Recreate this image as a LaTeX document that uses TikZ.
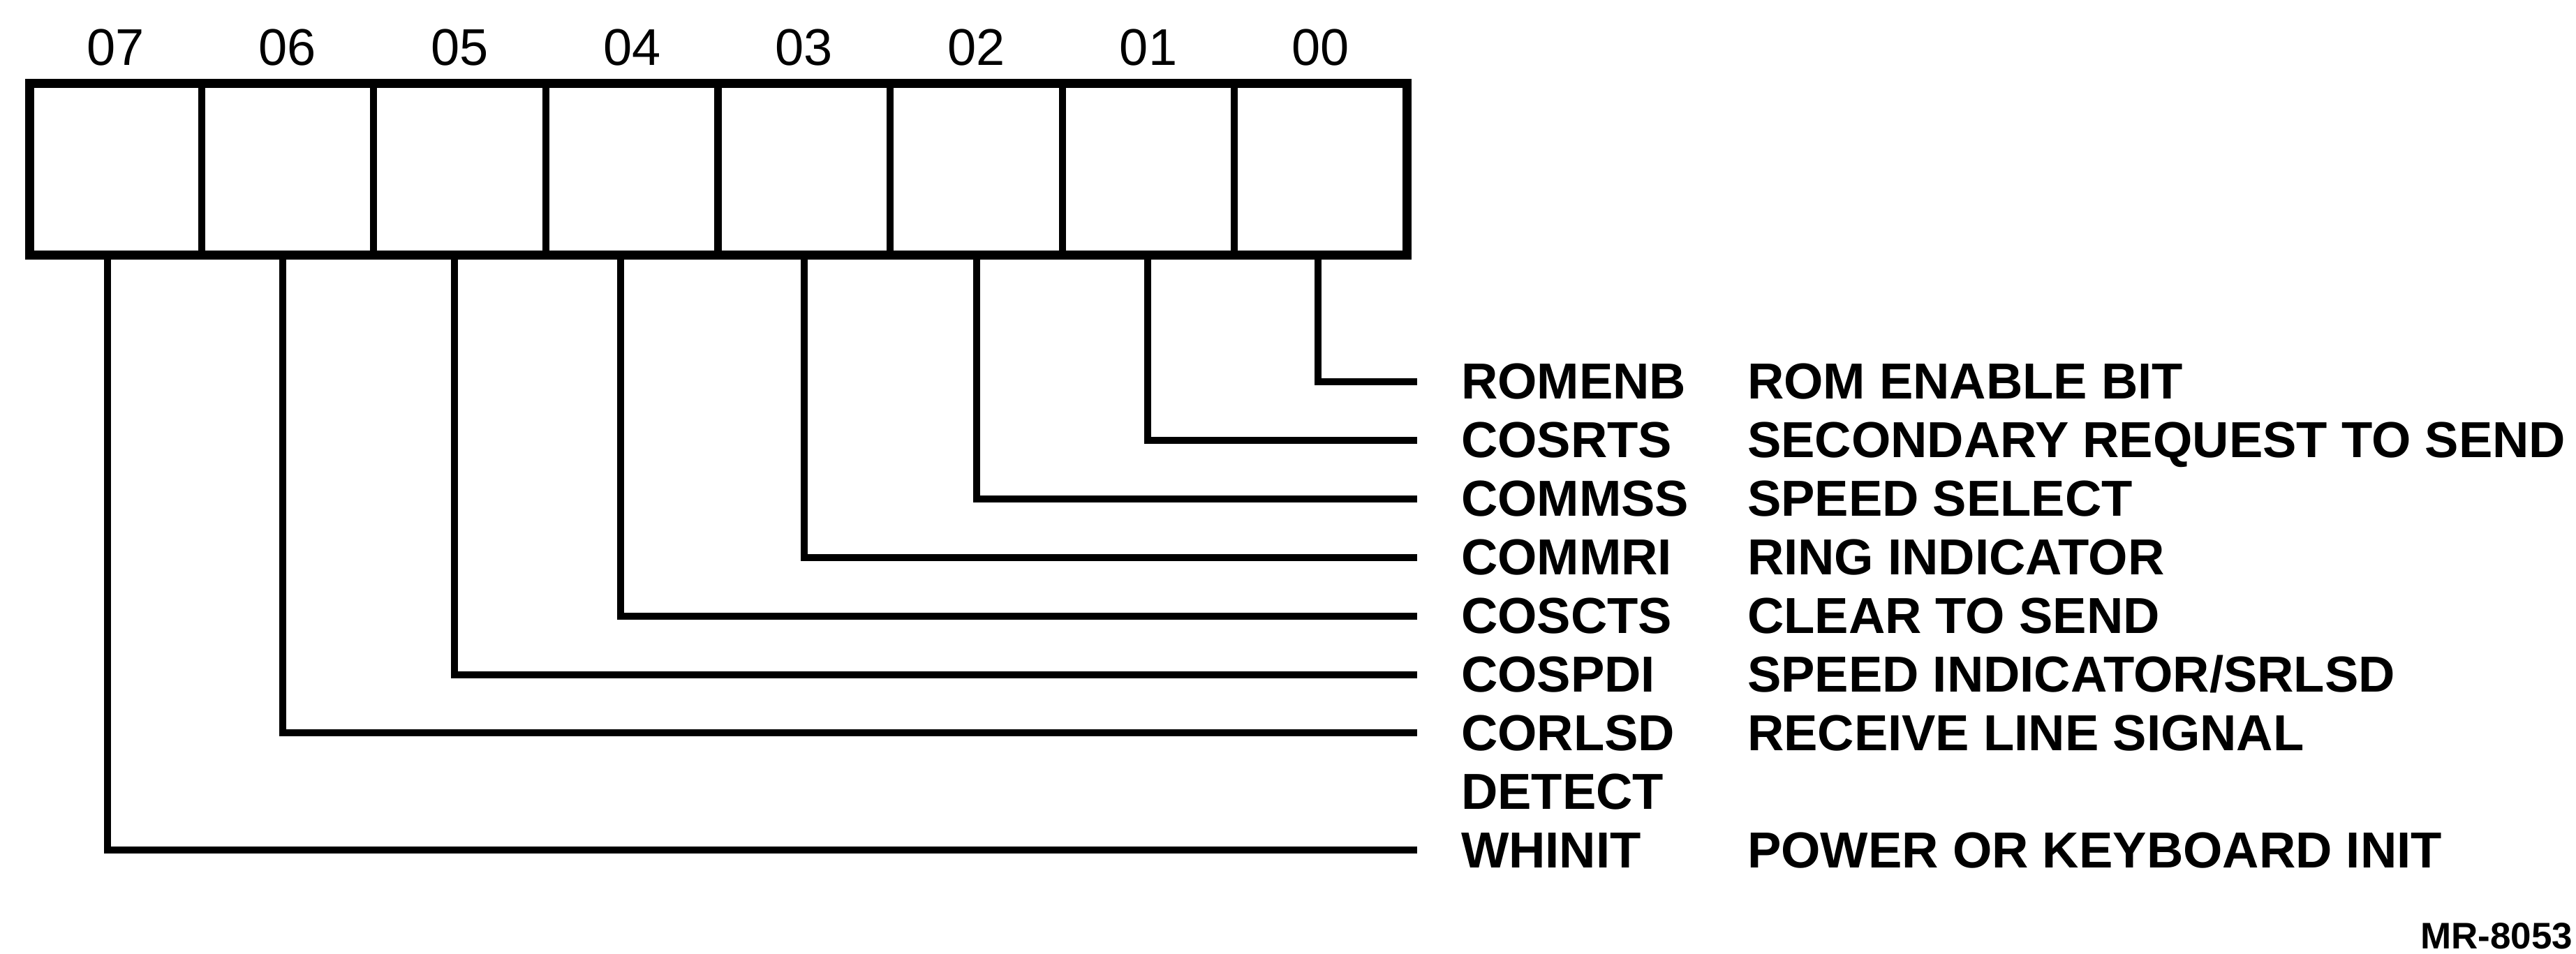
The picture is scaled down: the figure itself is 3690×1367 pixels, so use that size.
\documentclass[tikz,border=0pt]{standalone}
\usepackage{fontspec}
\setmainfont{Liberation Sans}
\begin{document}
\begin{tikzpicture}[x=0.2pt,y=-0.2pt,
  cell/.style={draw, line width=2pt, minimum width=49.32pt, minimum height=49.2pt, inner sep=0pt, outer sep=0pt, anchor=north west},
  bitnum/.style={font=\fontsize{14.8}{17}\selectfont, inner sep=0pt},
  sig/.style={font=\bfseries\fontsize{14.5}{17}\selectfont, inner sep=0pt, anchor=base west},
  conn/.style={line width=2pt}]
\useasboundingbox (0,0) rectangle (3690,1367);
% register cells and bit numbers
\foreach \b [count=\i from 0] in {07,06,05,04,03,02,01,00} {
  \node[cell] (cell\b) at ({42+\i*246.625},120) {};
  \node[bitnum] (num\b) at ({42+\i*246.625+123.3},68) {\b};
}
\draw[line width=2.6pt] (cell07.north west) rectangle (cell00.south east);
% signal names and descriptions
\foreach \n/\d [count=\k from 0] in {ROMENB/ROM ENABLE BIT, COSRTS/SECONDARY REQUEST TO SEND, COMMSS/SPEED SELECT, COMMRI/RING INDICATOR, COSCTS/CLEAR TO SEND, COSPDI/SPEED INDICATOR\slash SRLSD, CORLSD/RECEIVE LINE SIGNAL, DETECT/, WHINIT/POWER OR KEYBOARD INIT} {
  \node[sig] (lab\k) at (2092,{572+83.9*\k}) {\n};
  \node[sig] (desc\k) at (2502,{572+83.9*\k}) {\d};
}
% connectors
\foreach \b/\x/\r in {00/1888/0, 01/1644/1, 02/1399/2, 03/1152/3, 04/889/4, 05/651/5, 06/405/6, 07/154/8} {
  \coordinate (tap\b) at (\x,0 |- cell\b.south);
  \coordinate (end\b) at ([xshift=-12.4pt]lab\r.west);
  \draw[conn] (tap\b) |- (end\b);
}
\node[font=\bfseries\fontsize{10.6}{12}\selectfont, inner sep=0pt, anchor=base east] (mr) at (3686,1360) {MR-8053};
\end{tikzpicture}
\end{document}
